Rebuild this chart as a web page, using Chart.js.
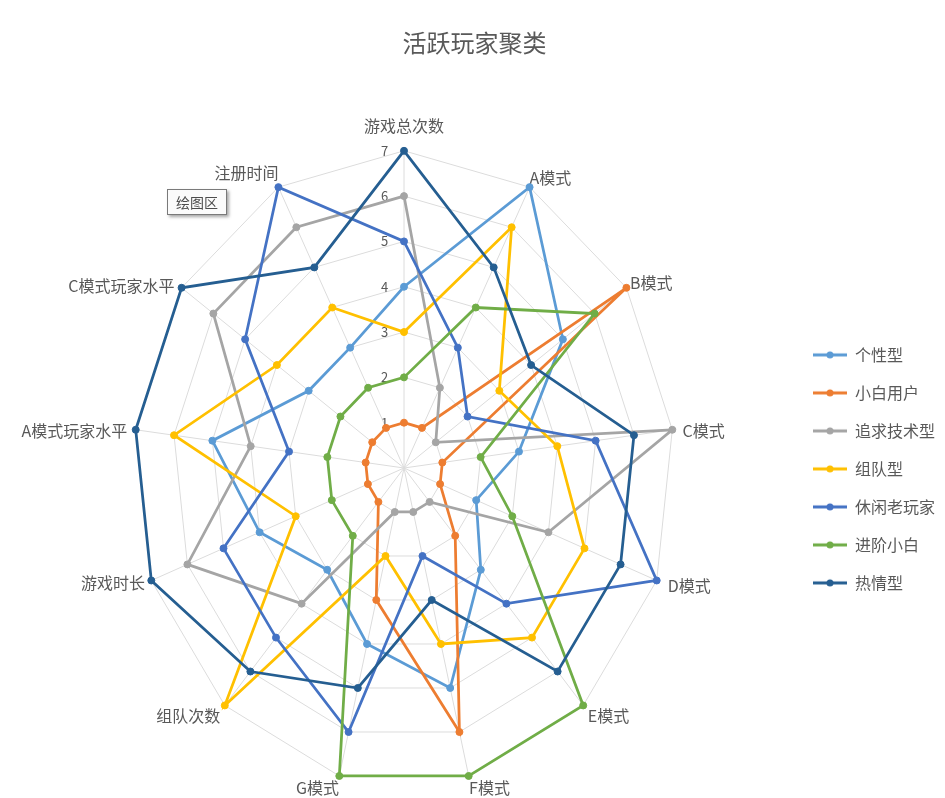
<!DOCTYPE html>
<html lang="zh">
<head>
<meta charset="utf-8">
<title>活跃玩家聚类</title>
<script src="https://cdn.jsdelivr.net/npm/chart.js@4.4.1/dist/chart.umd.min.js"></script>
<style>
    html, body { margin: 0; padding: 0; background: #ffffff; overflow: hidden; }
    #wrap { position: relative; width: 945px; height: 798px; overflow: hidden; }
    #hint {
        position: absolute; left: 167px; top: 189px; width: 58px; height: 24px;
        border: 1px solid #7a7a7a; background: #fbfbfb; color: #4d4d4d;
        font: 14px "Noto Sans CJK SC", sans-serif; line-height: 24px; text-align: center;
        box-shadow: 2px 2px 3px rgba(0, 0, 0, 0.35);
    }
</style>
</head>
<body>
<div id="wrap">
    <canvas id="radarChart" width="945" height="809"></canvas>
    <div id="hint">绘图区</div>
</div>
<script>
// axes, clockwise from the top
const axisLabels = ['游戏总次数', 'A模式', 'B模式', 'C模式', 'D模式', 'E模式', 'F模式',
    'G模式', '组队次数', '游戏时长', 'A模式玩家水平', 'C模式玩家水平', '注册时间'];

const seriesNames = ['个性型', '小白用户', '追求技术型', '组队型', '休闲老玩家', '进阶小白', '热情型'];
const seriesColors = ['#5B9BD5', '#ED7D31', '#A5A5A5', '#FFC000', '#4472C4', '#70AD47', '#255E91'];

const gexing   = [4, 7, 5, 3, 2, 3, 5, 4, 3, 4, 5, 3, 3];
const xiaobai  = [1, 1, 7, 1, 1, 2, 6, 3, 1, 1, 1, 1, 1];
const jishu    = [6, 2, 1, 7, 4, 1, 1, 1, 4, 6, 4, 6, 6];
const zudui    = [3, 6, 3, 4, 5, 5, 4, 2, 7, 3, 6, 4, 4];
const xiuxian  = [5, 3, 2, 5, 7, 4, 2, 6, 5, 5, 3, 5, 7];
const jinjie   = [2, 4, 6, 2, 3, 7, 7, 7, 2, 2, 2, 2, 2];
const reqing   = [7, 5, 4, 6, 6, 6, 3, 5, 6, 7, 7, 7, 5];

const seriesValues = [gexing, xiaobai, jishu, zudui, xiuxian, jinjie, reqing];
const tickValues = [0, 1, 2, 3, 4, 5, 6, 7];

// the plot in the picture is a bit narrower than it is tall
const xSquash = 0.852;
// per-label spacing from the outer ring, and small vertical nudges (px)
const labelPad = [8.3, -6.5, -1.5, 5.5, 7.5, 1.5, -4.5, -4.5, 1.5, 1.5, 3.5, 3.5, -6.5];
const labelNudge = [0, 0, 8, 12, -9, -5, 0, 0, -5, -10, 12, 13, -5];

class SquashedRadialScale extends Chart.RadialLinearScale {
    getPointPosition(index, distance, additionalAngle) {
        const pos = super.getPointPosition(index, distance, additionalAngle);
        pos.x = this.xCenter + (pos.x - this.xCenter) * xSquash;
        return pos;
    }
    fit() {
        super.fit();
        (this._pointLabelItems || []).forEach((item, i) => {
            const dy = labelNudge[i] || 0;
            item.y += dy;
            item.top += dy;
            item.bottom += dy;
        });
    }
}
SquashedRadialScale.id = 'squashedRadial';
SquashedRadialScale.defaults = {};
Chart.register(SquashedRadialScale);

Chart.defaults.font.family = '"Noto Sans CJK SC", "Noto Sans", sans-serif';
Chart.defaults.color = '#595959';

function legendIcon(color) {
    const c = document.createElement('canvas');
    c.width = 34;
    c.height = 10;
    const g = c.getContext('2d');
    g.strokeStyle = color;
    g.lineWidth = 3;
    g.beginPath();
    g.moveTo(0, 5);
    g.lineTo(34, 5);
    g.stroke();
    g.fillStyle = color;
    g.beginPath();
    g.arc(17, 5, 3.5, 0, Math.PI * 2);
    g.fill();
    return c;
}

const datasets = seriesNames.map((name, i) => ({
    label: name,
    data: seriesValues[i],
    borderColor: seriesColors[i],
    backgroundColor: seriesColors[i],
    pointBackgroundColor: seriesColors[i],
    pointBorderColor: seriesColors[i],
    pointRadius: 3.5,
    pointBorderWidth: 1,
    borderWidth: 2.75,
    fill: false,
    tension: 0,
    // later series sit on top, like the original
    order: seriesNames.length - 1 - i
}));

const ctx = document.getElementById('radarChart');

new Chart(ctx, {
    type: 'radar',
    data: {
        labels: axisLabels,
        datasets: datasets
    },
    options: {
        responsive: false,
        animation: false,
        devicePixelRatio: 1,
        layout: {
            padding: { left: 4, right: 0, top: 0, bottom: 0 }
        },
        plugins: {
            title: {
                display: true,
                text: '活跃玩家聚类',
                color: '#595959',
                font: { size: 24, weight: 'normal' },
                padding: { top: 28, bottom: 48 }
            },
            legend: {
                position: 'right',
                fullSize: false,
                title: { display: true, text: '', font: { size: 20 }, padding: 0 },
                labels: {
                    usePointStyle: true,
                    pointStyleWidth: 34,
                    padding: 22,
                    font: { size: 16 },
                    color: '#595959',
                    generateLabels: chart => chart.data.datasets.map((ds, i) => ({
                        text: ds.label,
                        fillStyle: ds.borderColor,
                        strokeStyle: ds.borderColor,
                        lineWidth: 0,
                        pointStyle: legendIcon(ds.borderColor),
                        fontColor: '#595959',
                        hidden: !chart.isDatasetVisible(i),
                        datasetIndex: i
                    }))
                }
            },
            tooltip: { enabled: false }
        },
        scales: {
            r: {
                type: 'squashedRadial',
                min: 0,
                max: 7,
                beginAtZero: true,
                grid: { color: '#DCDCDC', lineWidth: 1 },
                angleLines: { color: '#DCDCDC', lineWidth: 1 },
                pointLabels: {
                    color: '#595959',
                    font: { size: 16 },
                    padding: c => labelPad[c.index]
                },
                ticks: {
                    stepSize: 1,
                    color: '#595959',
                    font: { size: 13 },
                    showLabelBackdrop: false,
                    backdropPadding: 0,
                    callback: v => tickValues.includes(v) ? v + '\u2003\u2003\u2003' : ''
                }
            }
        }
    }
});
</script>
</body>
</html>
